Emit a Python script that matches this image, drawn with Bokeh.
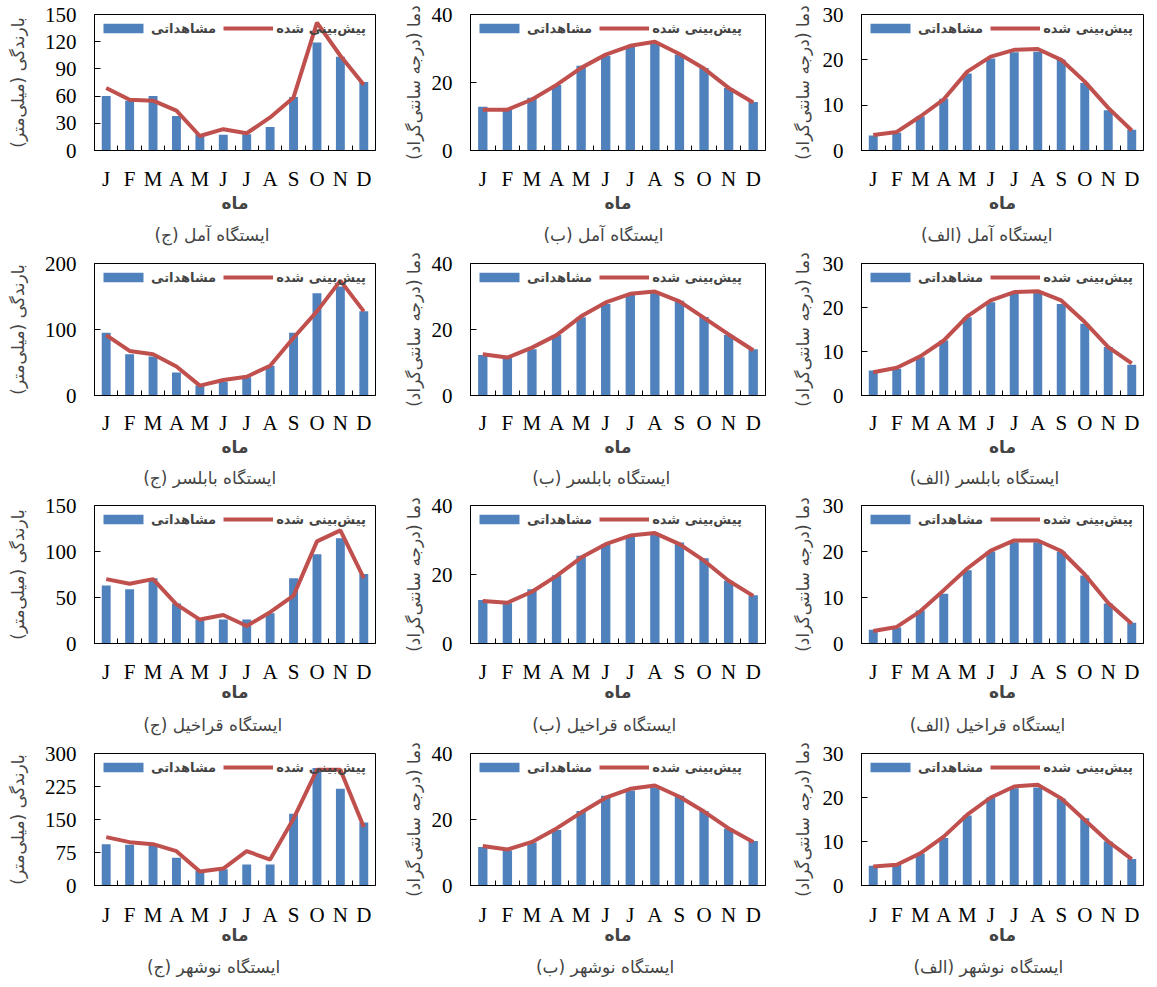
from bokeh.plotting import figure
from bokeh.layouts import column, row
from bokeh.models import Range1d, FixedTicker, Legend, LegendItem
from bokeh.embed import file_html
from bokeh.resources import INLINE

months = ["J", "F", "M", "A", "M", "J", "J", "A", "S", "O", "N", "D"]
stations = ["آمل", "بابلسر", "قراخیل", "نوشهر"]
panel_tags = ["(ج)", "(ب)", "(الف)"]
label_obs = "مشاهداتی"
label_pred = "پیش\u200cبینی شده"
xlabel = "ماه"
ylabel_rain = "بارندگی (میلی\u200cمتر)"
ylabel_temp = "دما (درجه سانتی\u200cگراد)"

# Amol
amol_rain_obs = [60, 55, 60, 38, 18, 17.5, 18, 26, 59, 119, 103.5, 75.5]
amol_rain_pred = [69, 56, 55, 44, 16, 23.5, 19, 36.5, 58.5, 141, 104.5, 72.5]
amol_tmax_obs = [12.9, 12.2, 15.5, 19.3, 24.9, 27.9, 30.5, 31.4, 28.2, 24.3, 18.4, 14.3]
amol_tmax_pred = [12, 12, 15, 19.3, 24.3, 28.2, 30.8, 32, 28.4, 24.1, 18.4, 14.1]
amol_tmin_obs = [3.3, 3.9, 7.5, 11.4, 17, 20.3, 21.7, 21.8, 20, 14.9, 8.9, 4.6]
amol_tmin_pred = [3.4, 4.1, 7.5, 11.3, 17.4, 20.7, 22.2, 22.4, 20, 15.2, 9.4, 4.4]
# Babolsar
babolsar_rain_obs = [95, 62.5, 59, 35, 15, 21, 27.5, 45, 95, 155, 165, 127.5]
babolsar_rain_pred = [91.5, 67.5, 62.5, 44, 15, 23.5, 28.5, 45, 87.5, 127.5, 174, 127.5]
babolsar_tmax_obs = [12.3, 11.5, 14, 18.3, 23.7, 27.7, 30.5, 31.2, 28.7, 23.8, 18.3, 14]
babolsar_tmax_pred = [12.5, 11.5, 14.5, 18.3, 24, 28.2, 30.8, 31.5, 28.5, 23.5, 18.5, 13.7]
babolsar_tmin_obs = [5.7, 6.1, 8.7, 12.5, 17.8, 21.2, 23.1, 23.5, 20.8, 16.3, 11, 7]
babolsar_tmin_pred = [5.3, 6.3, 8.9, 12.5, 18, 21.6, 23.5, 23.7, 21.6, 16.7, 11, 7.3]
# Gharakheil
gharakheil_rain_obs = [63, 59, 71, 43.5, 26, 26, 26, 33, 71, 97, 114.5, 75.5]
gharakheil_rain_pred = [70, 65, 70, 42.5, 26, 31, 19, 34, 52, 111, 123, 71]
gharakheil_tmax_obs = [12.6, 11.7, 15.7, 19.8, 25.4, 28.8, 31, 31.5, 29.3, 24.7, 18.2, 14]
gharakheil_tmax_pred = [12.3, 11.8, 15, 19.6, 24.9, 28.8, 31.3, 32, 28.8, 24, 18.2, 13.8]
gharakheil_tmin_obs = [3, 3.5, 7.2, 10.8, 15.9, 20, 22, 22, 20, 14.8, 8.7, 4.5]
gharakheil_tmin_pred = [2.7, 3.6, 7, 11.6, 16.3, 20.2, 22.4, 22.4, 20.1, 15, 8.8, 4.3]
# Nowshahr
nowshahr_rain_obs = [94, 92.5, 92.5, 63, 33, 37, 48, 48, 163, 267, 220, 143]
nowshahr_rain_pred = [110, 98.5, 94, 78, 32, 38.5, 78, 59, 152, 263, 263, 133]
nowshahr_tmax_obs = [11.7, 10.6, 13, 16.8, 22.6, 27.2, 28.8, 29.8, 27.2, 22.6, 17.3, 13.5]
nowshahr_tmax_pred = [12, 10.9, 13.2, 17.3, 22.1, 26.6, 29.3, 30.3, 26.9, 22.4, 17.3, 13.2]
nowshahr_tmin_obs = [4.5, 4.8, 7.3, 10.8, 15.9, 20, 22.1, 22.3, 19.8, 15.3, 10, 6]
nowshahr_tmin_pred = [4.3, 4.7, 7.3, 11.1, 16.1, 20, 22.5, 22.9, 19.8, 14.9, 10, 6]

amol_rain_ticks = [0, 30, 60, 90, 120, 150]
babolsar_rain_ticks = [0, 100, 200]
gharakheil_rain_ticks = [0, 50, 100, 150]
nowshahr_rain_ticks = [0, 75, 150, 225, 300]
tmax_ticks = [0, 20, 40]
tmin_ticks = [0, 10, 20, 30]

data = [
    [(amol_rain_obs, amol_rain_pred, amol_rain_ticks),
     (amol_tmax_obs, amol_tmax_pred, tmax_ticks),
     (amol_tmin_obs, amol_tmin_pred, tmin_ticks)],
    [(babolsar_rain_obs, babolsar_rain_pred, babolsar_rain_ticks),
     (babolsar_tmax_obs, babolsar_tmax_pred, tmax_ticks),
     (babolsar_tmin_obs, babolsar_tmin_pred, tmin_ticks)],
    [(gharakheil_rain_obs, gharakheil_rain_pred, gharakheil_rain_ticks),
     (gharakheil_tmax_obs, gharakheil_tmax_pred, tmax_ticks),
     (gharakheil_tmin_obs, gharakheil_tmin_pred, tmin_ticks)],
    [(nowshahr_rain_obs, nowshahr_rain_pred, nowshahr_rain_ticks),
     (nowshahr_tmax_obs, nowshahr_tmax_pred, tmax_ticks),
     (nowshahr_tmin_obs, nowshahr_tmin_pred, tmin_ticks)],
]

BLUE = "#4F81BD"
RED = "#C0504D"
SERIF = "Liberation Serif"
PERSIAN = "DejaVu Sans"

# ---- layout geometry (page pixels) ----
OFF_X, OFF_Y = 5, 1
col_w = [390, 382, 372]
col_left = [OFF_X + sum(col_w[:c]) for c in range(3)]
frame_x = [(99, 380), (475, 770), (866, 1148)]
row_top = [1, 253, 495, 743]
frame_top = [15, 264, 506, 754]
frame_bot = [151, 396, 644, 886]
month_y = [180, 424, 673, 916]
xlabel_y = [203, 447, 692, 935]
caption_y = [236, 478, 726, 968]
row_bot = [253, 495, 743, 985]
caption_cx = [215, 604, 989]
yl_standoff = [14, 5, 7]
CAP_FS = 17

rows = []
for r in range(4):
    figs = []
    H = row_bot[r] - row_top[r]
    ms = month_y[r] - frame_bot[r] - 13
    als = xlabel_y[r] - month_y[r] - 24
    ts = caption_y[r] - xlabel_y[r] - 18
    bt = frame_top[r] - row_top[r]
    bb = row_bot[r] - frame_bot[r]
    for c in range(3):
        obs, pred, ticks = data[r][c]
        x = list(range(12))
        fx0, fx1 = frame_x[c]
        bl = fx0 - col_left[c]
        br = max(col_left[c] + col_w[c] - fx1, 0)
        p = figure(width=col_w[c], height=H, output_backend="svg", toolbar_location=None,
                   x_range=Range1d(-0.5, 11.5), y_range=Range1d(0, ticks[-1]),
                   title_location="below",
                   min_border_left=bl, min_border_right=br,
                   min_border_top=bt, min_border_bottom=bb)
        p.xgrid.visible = False
        p.ygrid.visible = False
        p.outline_line_color = "black"
        p.outline_line_width = 1
        p.background_fill_color = "white"
        p.border_fill_color = "white"

        bars = p.vbar(x=x, top=obs, width=0.38, bottom=0, fill_color=BLUE, line_color=None)
        ln = p.line(x=x, y=pred, line_color=RED, line_width=4)

        xa = p.xaxis[0]
        xa.ticker = FixedTicker(ticks=x, minor_ticks=[i + 0.5 for i in range(11)])
        xa.major_label_overrides = {i: months[i] for i in range(12)}
        xa.major_tick_line_color = None
        xa.major_tick_in = 0
        xa.major_tick_out = 0
        xa.minor_tick_in = 5
        xa.minor_tick_out = 0
        xa.minor_tick_line_color = "black"
        xa.axis_line_color = "black"
        xa.major_label_text_font = SERIF
        xa.major_label_text_font_size = "21px"
        xa.major_label_text_color = "black"
        xa.major_label_standoff = ms
        xa.axis_label = xlabel
        xa.axis_label_text_font = PERSIAN
        xa.axis_label_text_font_size = "17px"
        xa.axis_label_text_font_style = "bold"
        xa.axis_label_standoff = als

        ya = p.yaxis[0]
        ya.ticker = FixedTicker(ticks=ticks)
        ya.minor_tick_line_color = None
        ya.major_tick_in = 6
        ya.major_tick_out = 0
        ya.major_tick_line_color = "black"
        ya.axis_line_color = "black"
        ya.major_label_text_font = SERIF
        ya.major_label_text_font_size = "21px"
        ya.major_label_text_color = "black"
        ya.major_label_standoff = 18
        ya.axis_label = ylabel_rain if c == 0 else ylabel_temp
        ya.axis_label_text_font = PERSIAN
        ya.axis_label_text_font_size = "17px"
        ya.axis_label_text_font_style = "normal"
        ya.axis_label_standoff = yl_standoff[c]

        cap = "ایستگاه " + stations[r] + " " + panel_tags[c]
        est_w = 0.44 * CAP_FS * len(cap)
        p.title.text = cap
        p.title.align = "left"
        p.title.text_font = PERSIAN
        p.title.text_font_size = f"{CAP_FS}px"
        p.title.text_font_style = "normal"
        p.title.offset = caption_cx[c] - fx0 - est_w / 2
        p.title.standoff = ts

        legend = Legend(items=[LegendItem(label=label_obs, renderers=[bars]),
                               LegendItem(label=label_pred, renderers=[ln])],
                        location="top_left", orientation="horizontal",
                        glyph_width=50, glyph_height=12, label_standoff=3, spacing=7,
                        label_height=20, padding=0, margin=4, background_fill_alpha=0,
                        border_line_color=None,
                        label_text_font=PERSIAN, label_text_font_size="13px",
                        label_text_font_style="bold")
        p.add_layout(legend)
        figs.append(p)
    rows.append(row(*figs))

layout = column(*rows)
open("out.html", "w").write(file_html(layout, INLINE))
